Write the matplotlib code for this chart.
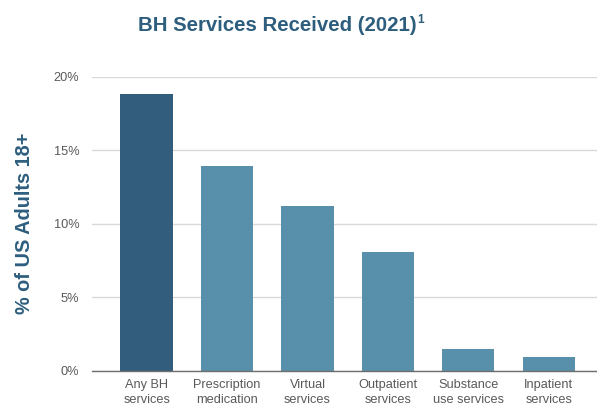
import matplotlib.pyplot as plt
from matplotlib.ticker import FuncFormatter

plt.rcParams['font.family'] = ['Liberation Sans', 'DejaVu Sans']

categories = ['Any BH\nservices', 'Prescription\nmedication', 'Virtual\nservices',
              'Outpatient\nservices', 'Substance\nuse services', 'Inpatient\nservices']
pct_adults = [18.8, 13.9, 11.2, 8.1, 1.45, 0.95]
bar_colors = ['#335d7c', '#5890ab', '#5890ab', '#5890ab', '#5890ab', '#5890ab']

title_col = '#2e5e7e'
tick_col = '#595959'

fig = plt.figure(figsize=(5.97, 4.11), dpi=100)
ax = fig.add_axes([0.154, 0.0985, 0.85, 0.715])

x = range(len(categories))
ax.bar(x, pct_adults, width=0.65, color=bar_colors, zorder=3)

ax.set_xlim(-0.68, 5.63)
ax.set_ylim(0, 20)
ax.set_yticks([0, 5, 10, 15, 20])
ax.yaxis.set_major_formatter(FuncFormatter(lambda v, p: f'{v:.0f}%'))
ax.set_xticks(list(x))
ax.set_xticklabels(categories, linespacing=1.35)

ax.grid(axis='y', color='#d9d9d9', linewidth=1, zorder=0)
for s in ['top', 'right', 'left']:
    ax.spines[s].set_visible(False)
ax.spines['bottom'].set_color('#6e6e6e')
ax.spines['bottom'].set_linewidth(1)
ax.spines['bottom'].set_zorder(4)
ax.tick_params(axis='both', length=0, labelsize=9.2, colors=tick_col)
ax.tick_params(axis='y', pad=9)
ax.tick_params(axis='x', pad=6)

ax.set_ylabel('% of US Adults 18+', fontsize=14.3, fontweight='bold',
              color=title_col, labelpad=14)

ttl = fig.text(0.231, 0.9234, 'BH Services Received (2021)', fontsize=14.7,
               fontweight='bold', color=title_col, ha='left', va='baseline')
ax.annotate('1', xy=(1, 1), xycoords=ttl, xytext=(0.3, 1.5), textcoords='offset points',
            fontsize=8.5, fontweight='bold', color=title_col, ha='left', va='top')

fig.savefig('out.png', dpi=100, facecolor='white')
